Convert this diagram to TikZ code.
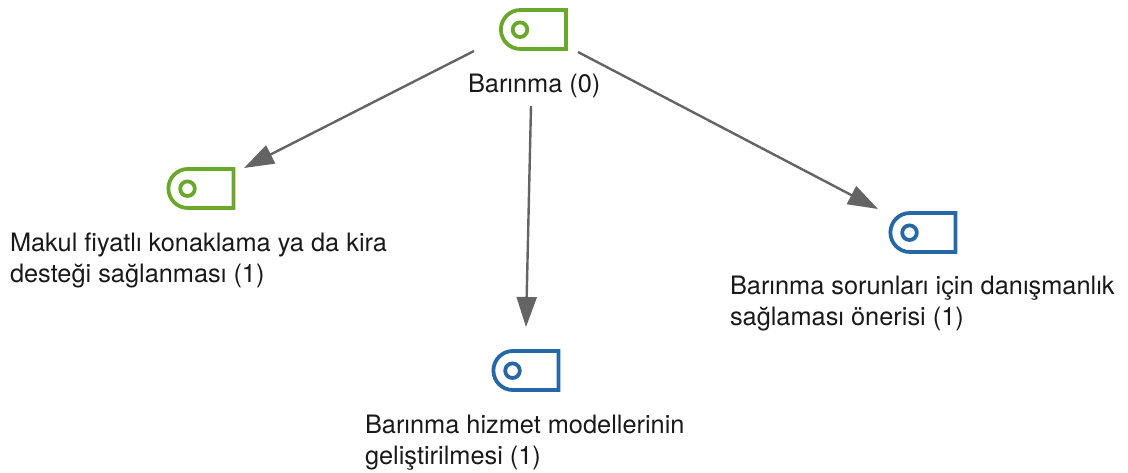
\documentclass[tikz,border=0pt]{standalone}
\usepackage{fontspec}
\setmainfont{TeX Gyre Heros}
\usetikzlibrary{arrows.meta}
\definecolor{igreen}{RGB}{106,168,44}
\definecolor{iblue}{RGB}{38,103,168}
\definecolor{conn}{RGB}{100,100,100}
\tikzset{
  x=1pt,y=-1pt,
  lbl/.style={inner sep=0pt,outer sep=0pt,anchor=base west,align=left,font=\fontsize{25.35pt}{31pt}\selectfont,text=black!90},
  conn/.style={draw=conn,line width=2.4pt,-{Triangle[length=30pt,width=20pt]}},
  iconbody/.style={inner sep=0pt,minimum width=65pt,minimum height=39pt,rectangle},
}
\newcommand{\iconat}[4]{% name, left x, top y, colour
  \node[iconbody,anchor=north west] (#1) at (#2,#3) {};
  \draw[#4,line width=3.8pt,line join=miter] (#1.north east) -- ++(0,39) -- ++(-45.5,0)
     arc[start angle=270,end angle=90,radius=19.5pt] -- cycle;
  \draw[#4,line width=3.8pt] ([xshift=19.5pt]#1.west) circle[radius=7.3pt];
}
\begin{document}
\begin{tikzpicture}
\useasboundingbox (0,0) rectangle (1128,472);
\iconat{top}{500.5}{10}{igreen}
\iconat{left}{168}{169}{igreen}
\iconat{mid}{493}{351}{iblue}
\iconat{right}{890}{213}{iblue}
\node[lbl] (ltop) at (468,92) {Barınma (0)};
\node[lbl] (lleft) at (10,282) {Makul fiyatlı konaklama ya da kira\\desteği sağlanması (1)};
\node[lbl] (lmid) at (365,464) {Barınma hizmet modellerinin\\geliştirilmesi (1)};
\node[lbl] (lright) at (730,325) {Barınma sorunları için danışmanlık\\sağlaması önerisi (1)};
\coordinate (a1s) at (474,51); \coordinate (a1e) at (244,168);
\coordinate (a2s) at (531,106); \coordinate (a2e) at (526,327);
\coordinate (a3s) at (578,52); \coordinate (a3e) at (878,209);
\draw[conn] (a1s) -- (a1e);
\draw[conn] (a2s) -- (a2e);
\draw[conn] (a3s) -- (a3e);
\end{tikzpicture}
\end{document}
